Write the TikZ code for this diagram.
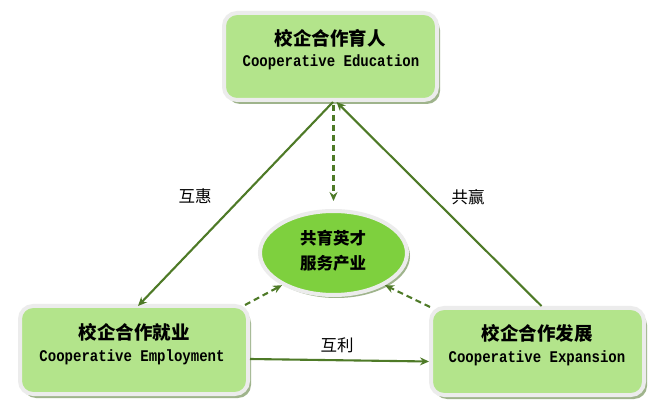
\documentclass[tikz,border=0pt]{standalone}
\usepackage{fontspec}
\newfontfamily\cjk{Noto Sans CJK SC}
\newfontfamily\mono[FakeStretch=0.86]{Liberation Mono}
\usetikzlibrary{shapes.geometric,shadows,arrows.meta}
\definecolor{boxgreen}{HTML}{B3E48B}
\definecolor{ellgreen}{HTML}{7ED03E}
\definecolor{ringc}{HTML}{ECECEC}
\definecolor{shadc}{HTML}{9FB48C}
\definecolor{linec}{HTML}{4E7A27}
\tikzset{
  boxnode/.style={draw=ringc, line width=4pt, fill=boxgreen, rounded corners=13pt,
    inner sep=0pt, drop shadow={shadow xshift=3pt, shadow yshift=-4pt, fill=shadc, opacity=1}},
  ellnode/.style={ellipse, draw=ringc, line width=4pt, fill=ellgreen, inner sep=0pt,
    drop shadow={shadow xshift=3pt, shadow yshift=-3pt, fill=shadc, opacity=1}},
  titletext/.style={font=\cjk\bfseries\fontsize{18.5}{20}\selectfont, inner sep=0pt},
  entext/.style={font=\mono\bfseries\fontsize{16.3}{18}\selectfont, inner sep=0pt},
  elltext/.style={font=\cjk\bfseries\fontsize{16.5}{18}\selectfont, inner sep=0pt},
  lbl/.style={font=\cjk\fontsize{16.5}{18}\selectfont, inner sep=0pt},
  conn/.style={draw=linec, line width=2.1pt, -{Stealth[length=9pt,width=8pt,inset=3pt]}},
  dconn/.style={conn, dash pattern=on 6pt off 4pt}
}
\begin{document}
\begin{tikzpicture}[x=1pt,y=-1pt]
\useasboundingbox (0,0) rectangle (665,409);
\fill[white] (0,0) rectangle (665,409);
% boxes
\node[boxnode, minimum width=213pt, minimum height=87pt] (top) at (330.5,56.5) {};
\node[boxnode, minimum width=228pt, minimum height=88pt] (lbox) at (134,350) {};
\node[boxnode, minimum width=213pt, minimum height=87pt] (rbox) at (537.5,351.5) {};
\node[ellnode, minimum width=147pt, minimum height=84pt] (ell) at (333.5,253) {};
% texts
\node[titletext] (toptitle) at (330,38) {校企合作育人};
\node[entext] (topen) at (331,62) {Cooperative Education};
\node[titletext] (ltitle) at (134,332) {校企合作就业};
\node[entext] (len) at (132,357) {Cooperative Employment};
\node[titletext] (rtitle) at (537,333) {校企合作发展};
\node[entext] (ren) at (537,358) {Cooperative Expansion};
\node[elltext] (ell1) at (333,238) {共育英才};
\node[elltext] (ell2) at (333,263) {服务产业};
% labels
\node[lbl] (huhui) at (195,196) {互惠};
\node[lbl] (gongying) at (468,197) {共赢};
\node[lbl] (huli) at (337,345) {互利};
% connectors
\draw[conn] ([xshift=2.5pt]top.south) -- ([xshift=4pt,yshift=-2pt]lbox.north);
\draw[conn] ([xshift=4pt]rbox.north) -- ([xshift=6pt]top.south);
\draw[dconn, shorten >=8pt] ([xshift=3pt,yshift=-3pt]top.south) -- (ell.north);
\draw[dconn] ([xshift=-5pt,yshift=-1pt]lbox.north east) -- (ell.212);
\draw[dconn] ([xshift=1pt,yshift=-1pt]rbox.north west) -- (ell.-32);
\draw[conn] ([yshift=-9pt]lbox.east) -- ([yshift=-10pt]rbox.west);
\end{tikzpicture}
\end{document}
